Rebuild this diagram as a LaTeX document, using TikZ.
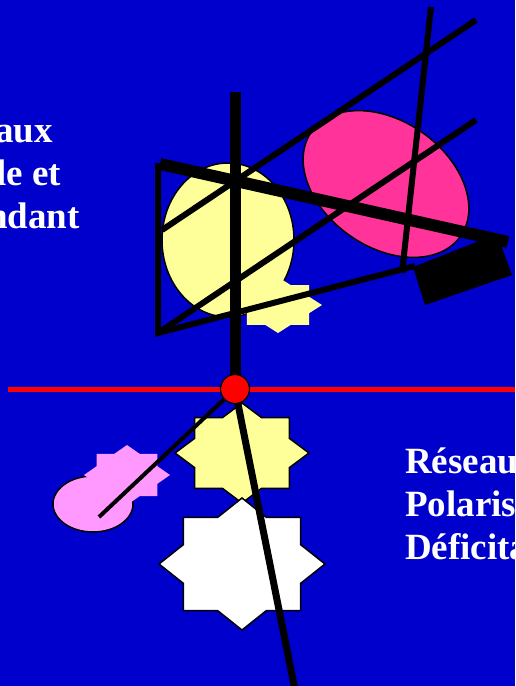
\documentclass[tikz,border=0pt]{standalone}
\usepackage{fontspec}
\setmainfont{Liberation Serif}
\definecolor{slideblue}{RGB}{0,0,204}
\definecolor{paleyellow}{RGB}{255,255,153}
\definecolor{hotpink}{RGB}{255,51,153}
\definecolor{lilac}{RGB}{255,153,255}
\newcommand{\starpath}[4]{%
  (#1+#3,#2) foreach \k in {1,...,15}{%
    -- ({#1+#3*cos(\k*22.5)*(1-0.235*mod(\k,2))},{#2+#4*sin(\k*22.5)*(1-0.235*mod(\k,2))})} -- cycle}

\begin{document}
\begin{tikzpicture}[x=1pt, y=-1pt,
    lbl/.style={text=white, inner sep=0pt, font=\fontsize{37}{45}\selectfont\bfseries},
    blob/.style={draw=black, line width=1.5pt},
    rod/.style={line width=6pt},
    bar/.style={line width=12pt}]
    \clip (0,0) rectangle (515,686);
    \fill[slideblue] (0,0) rectangle (515,686);
    \filldraw[blob, fill=paleyellow] (228,240) ellipse [x radius=66, y radius=77];
    \fill[paleyellow] \starpath{278}{305}{44}{28};
    \filldraw[blob, fill=hotpink, shift={(386,184)}, rotate=-35] (0,0) ellipse [x radius=91, y radius=63];
    \filldraw[blob, fill=lilac] (93,504) ellipse [x radius=40, y radius=28];
    \fill[lilac] \starpath{127}{475}{43}{30};
    \filldraw[blob, fill=paleyellow] \starpath{242}{453}{67}{50};
    \filldraw[blob, fill=white] \starpath{242}{564}{83}{66};
    \coordinate (a1) at (158,333);
    \coordinate (a2) at (158,163);
    \draw[rod] (a2) -- (a1) -- (415,266);
    \draw[rod] (a1) -- (476,120);
    \draw[rod] (162,230) -- (476,20);
    \draw[rod] (431,7) -- (402,273);
    \fill (413,267) -- (497,234) -- (512,275) -- (425,305) -- cycle;
    \draw[bar] (160,164) -- (508,242);
    \draw[line width=11pt] (235,92) -- (235,389);
    \draw[red, line width=5pt] (8,389) -- (515,389);
    \coordinate (p0) at (235,389);
    \draw[line width=4pt] (p0) -- (99,517);
    \draw[line width=7pt] (p0) -- (295,690);
    \node[circle, draw=black, line width=1.2pt, fill=red, minimum size=29pt, inner sep=0pt] (piv) at (p0) {};
    \node[lbl, anchor=base east] (t1) at (53,142) {aux};
    \node[lbl, anchor=base east] (t2) at (61,185) {le et};
    \node[lbl, anchor=base east] (t3) at (80,228) {ndant};
    \node[lbl, anchor=base west] (r1) at (405,473) {Réseau};
    \node[lbl, anchor=base west] (r2) at (405,516) {Polaris};
    \node[lbl, anchor=base west] (r3) at (405,559) {Déficita};
\end{tikzpicture}
\end{document}
